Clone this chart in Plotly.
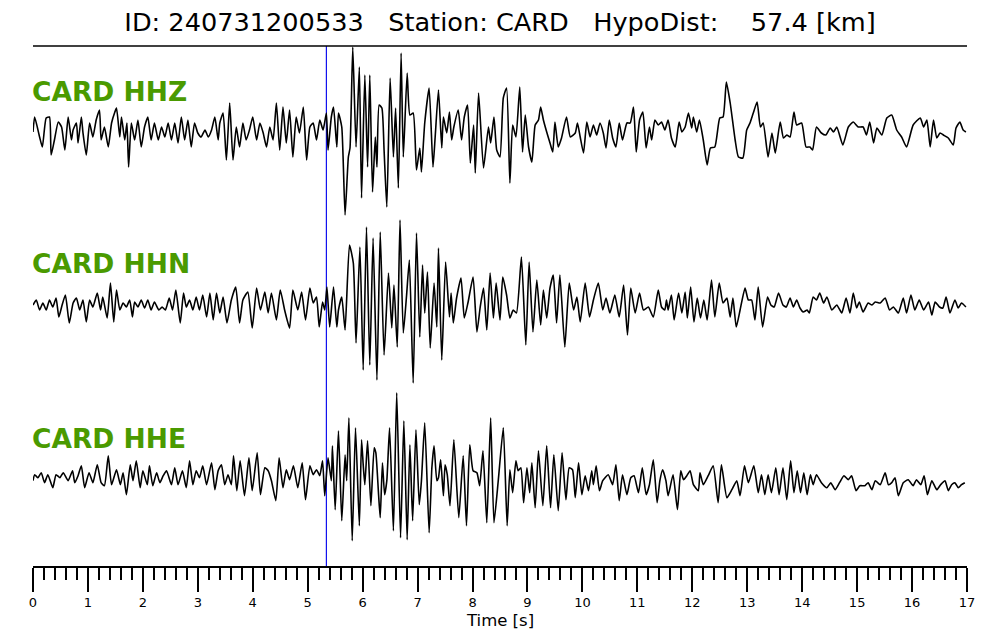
import plotly.graph_objects as go

# ---------------- data (time [s], amplitude [arbitrary units]) ----------------
t_hhz = [0.00,0.03,0.12,0.17,0.24,0.30,0.33,0.39,0.46,0.52,
         0.58,0.64,0.70,0.73,0.79,0.82,0.88,0.91,0.97,1.03,
         1.09,1.15,1.21,1.24,1.30,1.37,1.43,1.49,1.52,1.58,
         1.61,1.67,1.71,1.74,1.79,1.85,1.91,1.97,2.03,2.09,
         2.15,2.21,2.28,2.34,2.40,2.46,2.52,2.58,2.64,2.70,
         2.76,2.82,2.88,2.94,3.00,3.06,3.13,3.19,3.25,3.31,
         3.37,3.40,3.46,3.52,3.58,3.64,3.70,3.76,3.82,3.88,
         3.94,4.00,4.07,4.13,4.19,4.25,4.31,4.37,4.43,4.49,
         4.55,4.61,4.67,4.73,4.79,4.85,4.92,4.98,5.04,5.10,
         5.16,5.22,5.28,5.34,5.37,5.43,5.47,5.53,5.56,5.62,
         5.68,5.74,5.77,5.82,5.88,5.94,5.98,6.04,6.09,6.13,
         6.18,6.23,6.26,6.30,6.35,6.39,6.44,6.50,6.56,6.60,
         6.65,6.70,6.74,6.81,6.86,6.92,6.98,7.04,7.07,7.13,
         7.21,7.28,7.32,7.38,7.44,7.47,7.53,7.58,7.62,7.66,
         7.74,7.80,7.85,7.91,7.96,8.02,8.05,8.11,8.20,8.29,
         8.33,8.39,8.44,8.50,8.56,8.62,8.68,8.73,8.79,8.86,
         8.91,8.96,9.02,9.08,9.14,9.20,9.24,9.29,9.35,9.41,
         9.46,9.50,9.56,9.62,9.71,9.78,9.87,9.91,9.96,10.02,
         10.08,10.14,10.20,10.26,10.32,10.38,10.43,10.49,10.55,10.61,
         10.67,10.73,10.81,10.87,10.93,10.98,11.04,11.10,11.16,11.22,
         11.26,11.32,11.38,11.44,11.50,11.56,11.62,11.69,11.76,11.81,
         11.87,11.93,11.99,12.02,12.08,12.13,12.20,12.27,12.33,12.41,
         12.50,12.56,12.62,12.69,12.78,12.84,12.92,12.99,13.05,13.11,
         13.18,13.24,13.29,13.38,13.45,13.51,13.60,13.66,13.72,13.78,
         13.85,13.90,13.99,14.07,14.14,14.19,14.26,14.35,14.43,14.51,
         14.57,14.63,14.74,14.84,14.93,15.02,15.11,15.17,15.23,15.30,
         15.36,15.45,15.54,15.63,15.72,15.81,15.90,16.02,16.15,16.21,
         16.27,16.33,16.39,16.45,16.51,16.57,16.66,16.75,16.80,16.87,
         16.93,16.98]
a_hhz = [-2,13,-7,-17,12,13,-25,-10,8,3,
         -20,13,-10,0,7,-13,13,-3,-25,7,
         -7,10,20,-10,3,-17,7,18,22,-7,
         13,-10,7,-37,7,-10,10,-17,3,13,
         -10,7,-10,3,-7,7,-10,7,-13,13,
         -10,10,-17,7,-3,-7,0,-7,0,13,
         -10,7,17,-30,27,-30,3,-17,7,-10,
         0,13,-10,7,-3,-17,3,-10,27,-20,
         23,-13,20,-27,13,-3,23,-30,3,7,
         -10,10,0,17,-20,13,23,-17,17,3,
         -85,-27,-18,83,-17,63,-68,55,-37,55,
         -62,-7,-37,25,22,-20,-77,52,-27,22,
         -58,77,-27,57,15,17,-40,-18,-42,7,
         42,-37,-7,40,-18,13,-3,18,-10,3,
         20,-10,13,25,-33,5,-43,37,-38,3,
         -13,13,-20,-27,32,42,-53,5,-7,43,
         -22,15,-17,-32,5,10,23,10,-2,-13,
         -22,8,-17,-8,13,-7,-3,7,-7,-23,
         8,-7,5,-5,7,-3,-18,10,-8,-17,
         7,-10,7,7,23,-22,10,18,-18,3,
         -10,10,5,8,0,10,-8,-17,8,-2,
         3,17,2,13,-2,10,-10,-35,-18,-17,
         12,13,48,27,-10,-27,-28,0,7,17,
         28,3,7,-27,-3,-23,8,-8,-5,-7,
         18,5,7,-17,-17,-20,3,-3,-5,2,
         -2,3,-15,3,8,3,3,-5,8,-13,
         2,-5,12,15,0,-7,-17,5,12,3,
         10,-17,10,-8,-3,-5,-8,-15,2,8,
         0,-2]

t_hhn = [0.00,0.06,0.12,0.18,0.24,0.30,0.36,0.42,0.47,0.53,
         0.59,0.66,0.73,0.79,0.85,0.91,0.97,1.03,1.09,1.17,
         1.23,1.27,1.35,1.41,1.47,1.52,1.58,1.64,1.70,1.76,
         1.81,1.85,1.91,1.97,2.03,2.09,2.15,2.21,2.29,2.35,
         2.41,2.48,2.54,2.60,2.68,2.74,2.79,2.85,2.91,2.97,
         3.03,3.09,3.16,3.22,3.28,3.34,3.40,3.46,3.53,3.61,
         3.69,3.76,3.82,3.91,3.99,4.07,4.14,4.22,4.28,4.34,
         4.43,4.50,4.58,4.67,4.73,4.82,4.89,4.96,5.04,5.10,
         5.16,5.21,5.27,5.31,5.35,5.40,5.47,5.53,5.56,5.62,
         5.68,5.76,5.83,5.88,5.95,6.01,6.07,6.13,6.19,6.26,
         6.32,6.39,6.47,6.53,6.57,6.63,6.68,6.74,6.80,6.85,
         6.92,6.98,7.04,7.09,7.13,7.18,7.23,7.30,7.35,7.38,
         7.44,7.51,7.58,7.61,7.65,7.71,7.79,7.85,7.92,8.01,
         8.08,8.14,8.20,8.26,8.32,8.38,8.43,8.50,8.55,8.62,
         8.68,8.74,8.80,8.89,8.97,9.03,9.10,9.17,9.24,9.29,
         9.35,9.41,9.47,9.53,9.59,9.68,9.76,9.84,9.90,9.96,
         10.05,10.13,10.20,10.29,10.37,10.43,10.50,10.59,10.67,10.75,
         10.82,10.88,10.96,11.04,11.11,11.20,11.29,11.38,11.44,11.50,
         11.53,11.56,11.62,11.67,11.75,11.81,11.87,11.91,11.97,12.03,
         12.09,12.15,12.21,12.27,12.35,12.41,12.49,12.56,12.63,12.69,
         12.74,12.80,12.87,12.96,13.02,13.08,13.14,13.20,13.28,13.37,
         13.43,13.49,13.57,13.65,13.71,13.78,13.84,13.90,13.96,14.02,
         14.09,14.13,14.20,14.26,14.32,14.39,14.45,14.54,14.63,14.72,
         14.80,14.87,14.93,14.99,15.04,15.11,15.20,15.27,15.33,15.42,
         15.51,15.59,15.66,15.75,15.84,15.90,15.98,16.05,16.13,16.21,
         16.30,16.36,16.42,16.50,16.56,16.62,16.69,16.78,16.84,16.90,
         16.98]
a_hhn = [0,5,-5,2,-5,5,-2,7,-12,0,
         10,-18,2,7,-5,5,-17,5,-2,12,
         -5,8,-13,22,-17,15,-5,2,-2,5,
         -12,3,-2,5,-3,5,-5,3,-5,-2,
         -5,7,-5,15,-18,12,-2,5,-5,8,
         -5,10,-12,12,-15,12,-8,8,-18,5,
         18,-18,5,13,-23,17,-5,13,-8,12,
         -15,15,-5,-23,15,-5,13,-15,17,2,
         8,-22,3,-5,18,-22,18,-22,-5,8,
         -25,60,42,-38,58,-65,78,-60,67,-75,
         73,-50,32,-23,20,-42,85,-28,10,45,
         -78,72,-32,40,-8,33,-43,22,-22,57,
         -55,43,-12,12,-18,7,27,-13,3,28,
         -27,-2,17,-25,32,-13,22,-15,28,10,
         -13,-5,-8,48,-40,43,-27,25,-20,15,
         -13,17,30,-18,30,-42,22,-5,8,-17,
         22,-12,5,22,-5,7,-8,10,-12,20,
         -30,17,-8,12,-5,-2,-12,15,-2,-5,
         5,-5,10,-15,12,-8,13,-13,18,-17,
         7,-13,5,-15,25,-12,22,2,7,-12,
         7,-22,-5,17,5,5,-15,18,-22,8,
         0,-2,12,0,-2,7,-2,5,-3,-7,
         -5,-8,8,5,12,2,8,-5,0,-8,
         7,-8,12,-3,3,-7,2,0,3,2,
         7,-5,-2,-8,7,-8,10,-5,5,-5,
         3,-10,3,-2,-3,8,-8,5,-3,2,
         -2]

t_hhe = [0.00,0.03,0.09,0.15,0.21,0.27,0.36,0.42,0.49,0.55,
         0.64,0.72,0.76,0.82,0.88,0.94,1.02,1.09,1.17,1.24,
         1.30,1.37,1.43,1.52,1.59,1.64,1.70,1.77,1.82,1.88,
         1.95,2.00,2.08,2.12,2.18,2.25,2.31,2.37,2.43,2.52,
         2.58,2.64,2.72,2.79,2.85,2.91,2.97,3.03,3.09,3.16,
         3.25,3.31,3.37,3.43,3.49,3.55,3.61,3.65,3.71,3.77,
         3.85,3.93,3.99,4.08,4.14,4.22,4.28,4.34,4.42,4.48,
         4.55,4.61,4.67,4.74,4.82,4.90,4.96,5.04,5.10,5.16,
         5.22,5.27,5.31,5.37,5.43,5.45,5.50,5.56,5.62,5.68,
         5.71,5.75,5.81,5.87,5.94,5.98,6.01,6.04,6.09,6.15,
         6.21,6.24,6.29,6.32,6.36,6.40,6.44,6.49,6.56,6.62,
         6.69,6.75,6.81,6.86,6.91,6.97,7.03,7.07,7.13,7.21,
         7.26,7.30,7.35,7.38,7.42,7.47,7.50,7.54,7.59,7.66,
         7.75,7.83,7.89,7.95,8.01,8.08,8.13,8.19,8.26,8.33,
         8.39,8.47,8.56,8.63,8.68,8.73,8.79,8.83,8.88,8.93,
         8.99,9.04,9.08,9.14,9.20,9.28,9.35,9.42,9.48,9.56,
         9.63,9.70,9.76,9.82,9.87,9.93,9.99,10.05,10.11,10.17,
         10.20,10.25,10.31,10.37,10.47,10.55,10.61,10.67,10.73,10.81,
         10.88,10.94,11.02,11.09,11.16,11.22,11.29,11.36,11.41,11.46,
         11.52,11.56,11.65,11.73,11.79,11.84,11.90,11.96,12.02,12.11,
         12.14,12.20,12.29,12.38,12.47,12.53,12.63,12.72,12.81,12.87,
         12.95,13.02,13.12,13.20,13.26,13.32,13.38,13.44,13.52,13.58,
         13.65,13.72,13.79,13.85,13.91,13.97,14.03,14.09,14.15,14.20,
         14.26,14.35,14.45,14.52,14.60,14.68,14.76,14.84,14.90,14.98,
         15.05,15.14,15.20,15.27,15.33,15.42,15.51,15.57,15.63,15.69,
         15.75,15.84,15.93,16.02,16.08,16.16,16.22,16.28,16.36,16.45,
         16.52,16.60,16.66,16.72,16.78,16.84,16.90,16.96]
a_hhe = [-3,3,0,5,-5,3,-10,3,0,5,
         -3,7,-5,2,12,-10,5,-5,13,-5,
         -8,22,-7,8,-7,5,-17,13,-3,17,
         -10,7,-7,12,-8,5,-5,2,7,-7,
         10,-7,7,-10,17,-7,7,0,12,-7,
         15,-12,7,13,-7,3,-7,22,-13,17,
         -18,20,-13,25,-17,10,7,-3,-23,20,
         -10,8,-2,12,-10,15,-22,12,3,8,
         2,17,-18,20,-3,32,-32,47,-43,23,
         -3,60,-63,50,-48,38,13,-7,37,-28,
         30,25,-17,-40,15,-17,-3,50,-53,85,
         -60,57,-62,33,-43,48,-27,-3,55,-55,
         10,32,-3,0,18,-18,13,3,-28,38,
         -40,22,-48,33,7,5,-8,27,-45,60,
         -45,-2,50,-48,8,-15,17,7,10,-25,
         10,-15,15,-30,27,-28,32,-30,23,-33,
         25,-22,10,8,-20,15,-17,2,-13,7,
         -7,12,-13,-3,3,-7,13,-23,3,-17,
         0,2,-15,10,-17,-7,18,-25,-3,8,
         -3,-18,3,-32,7,-2,2,7,-7,-13,
         5,-7,2,12,-25,13,-20,-12,-3,-18,
         12,-5,12,-15,3,-17,3,-15,10,-17,
         10,-22,17,-15,7,-15,5,-17,3,-7,
         3,-5,-10,-5,-12,-5,2,-2,2,-13,
         -8,-8,-5,-12,-3,-7,5,-7,-5,0,
         -18,-5,-2,-8,-2,-7,2,-17,-3,-12,
         -7,-3,-13,-7,-5,-10,-7,-5]

channels = ["CARD HHZ", "CARD HHN", "CARD HHE"]
p_arrival = 5.34
x_ticks = list(range(0, 18))
title_text = "ID: 240731200533\u00a0\u00a0\u00a0Station: CARD\u00a0\u00a0\u00a0HypoDist:\u00a0\u00a0\u00a0\u00a057.4 [km]"

# ---------------- figure ----------------
FONT = "DejaVu Sans"
GREEN = "#4a9a00"
W, H = 992, 632          # page body has an 8px default margin
PLOT_H = 520

fig = go.Figure()
for tt, aa, ax in [(t_hhz, a_hhz, "y"), (t_hhn, a_hhn, "y2"), (t_hhe, a_hhe, "y3")]:
    n = min(len(tt), len(aa))
    fig.add_trace(go.Scatter(x=tt[:n], y=aa[:n], mode="lines", yaxis=ax,
                             line=dict(color="black", width=1.6, shape="spline", smoothing=0.5),
                             hoverinfo="skip"))

fig.update_layout(
    width=W, height=H,
    margin=dict(l=25, r=33, t=38, b=74, autoexpand=False),
    paper_bgcolor="white", plot_bgcolor="white",
    showlegend=False,
    font=dict(family=FONT, color="black"),
    title=dict(text=title_text, x=(500 - 8) / W, xanchor="center", y=1 - 14 / H, yanchor="middle",
               yref="container", xref="container",
               font=dict(family=FONT, size=25.6, color="black")),
    xaxis=dict(range=[0, 17], tickmode="array", tickvals=x_ticks, ticktext=[str(v) for v in x_ticks],
               ticks="outside", ticklen=24, tickwidth=2, tickcolor="black",
               showline=True, linecolor="black", linewidth=1.5, showgrid=False, zeroline=False,
               tickfont=dict(family=FONT, size=13, color="black"),
               minor=dict(dtick=0.2, tick0=0, ticks="outside", ticklen=12, tickwidth=2,
                          tickcolor="black", showgrid=False)),
    yaxis=dict(range=[-436, 84], visible=False, fixedrange=True),
    yaxis2=dict(range=[-261, 259], visible=False, overlaying="y", fixedrange=True),
    yaxis3=dict(range=[-88.3, 431.7], visible=False, overlaying="y", fixedrange=True),
)

fig.add_shape(type="line", xref="paper", yref="paper", x0=0, x1=1, y0=1, y1=1,
              line=dict(color="black", width=1.5))
fig.add_shape(type="line", xref="x", yref="paper", x0=p_arrival, x1=p_arrival, y0=0, y1=1,
              line=dict(color="#1010ee", width=1.2), layer="below")

label_y = [0.913, 0.581, 0.246]
for name, ly in zip(channels, label_y):
    fig.add_annotation(text="<b>" + name + "</b>", xref="paper", yref="paper", x=-0.003, y=ly,
                       xanchor="left", yanchor="middle", showarrow=False,
                       font=dict(family=FONT, size=26.5, color=GREEN))

fig.add_annotation(text="Time [s]", xref="paper", yref="paper", x=0.5, y=-(620 - 566) / PLOT_H,
                   xanchor="center", yanchor="middle", showarrow=False,
                   font=dict(family=FONT, size=16.5, color="black"))

fig.write_html("out.html")
